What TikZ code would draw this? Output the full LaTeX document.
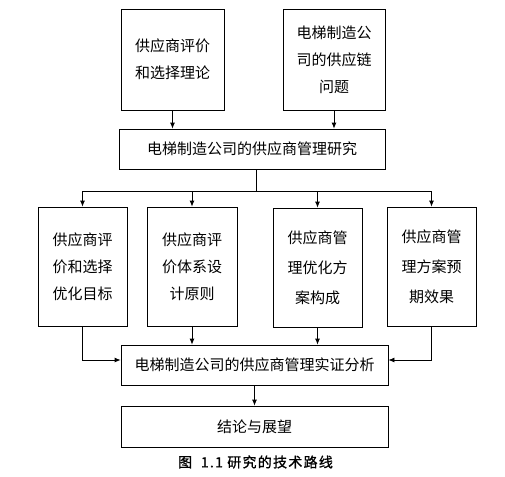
\documentclass[tikz,border=0pt]{standalone}
\usepackage{fontspec}
\newfontfamily\cjk{Noto Sans CJK SC}
\newfontfamily\cjkcap[LetterSpace=9,FakeBold=1.2]{Noto Sans CJK SC}
\usetikzlibrary{arrows.meta,calc}
\begin{document}
\begin{tikzpicture}[x=1pt,y=-1pt,
  box/.style={draw,line width=0.8pt,inner sep=0pt,align=center,
    font=\cjk\fontsize{15}{27}\selectfont},
  arr/.style={line width=0.8pt,-{Latex[length=6pt,width=5pt]}},
  ln/.style={line width=0.8pt}]
\useasboundingbox (0,0) rectangle (505,476);
\node[box,minimum width=103pt,minimum height=101pt] (t1) at (172.5,59.5) {供应商评价\\和选择理论};
\node[box,minimum width=102pt,minimum height=101pt] (t2) at (334,59.5) {电梯制造公\\司的供应链\\问题};
\node[box,minimum width=266pt,minimum height=40pt] (r) at (252,149) {电梯制造公司的供应商管理研究};
\node[box,minimum width=89pt,minimum height=119pt] (b4) at (82.5,266.5) {供应商评\\价和选择\\优化目标};
\node[box,minimum width=90pt,minimum height=119pt] (b5) at (192,266.5) {供应商评\\价体系设\\计原则};
\node[box,minimum width=89pt,minimum height=119pt,font=\cjk\fontsize{15}{30}\selectfont] (b6) at (317.5,267.5) {供应商管\\理优化方\\案构成};
\node[box,minimum width=89pt,minimum height=119pt,font=\cjk\fontsize{15}{30}\selectfont] (b7) at (431.5,266.5) {供应商管\\理方案预\\期效果};
\node[box,minimum width=267pt,minimum height=40pt] (a) at (254.5,365) {电梯制造公司的供应商管理实证分析};
\node[box,minimum width=267pt,minimum height=41pt] (c) at (254.5,426.5) {结论与展望};
\node[inner sep=0pt,font=\cjkcap\fontsize{14}{16}\selectfont] (cap) at (255.5,462) {图\ \ 1.1 研究的技术路线};
\draw[arr] (t1.south) -- (t1.south |- r.north);
\draw[arr] (t2.south) -- (t2.south |- r.north);
\coordinate (split) at (256,191);
\draw[ln] (split |- r.south) -- (split);
\draw[ln] (b4.north |- split) -- (b7.north |- split);
\foreach \b in {b4,b5,b6,b7} \draw[arr] (\b.north |- split) -- (\b.north);
\draw[arr] (b4.south) |- ([yshift=5pt]a.west);
\draw[arr] (b5.south) -- (b5.south |- a.north);
\draw[arr] (b6.south) -- (b6.south |- a.north);
\draw[arr] (b7.south) |- ([yshift=5pt]a.east);
\draw[arr] (a.south) -- (a.south |- c.north);
\end{tikzpicture}
\end{document}
